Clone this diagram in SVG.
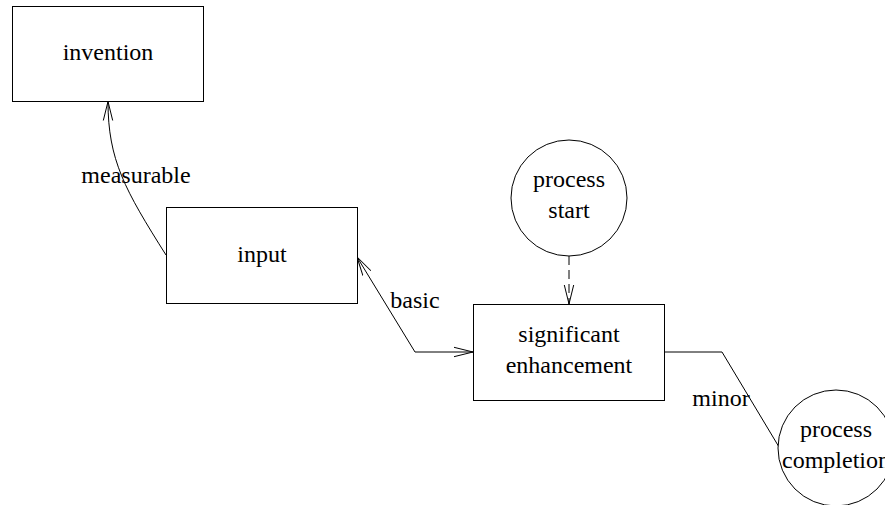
<svg xmlns="http://www.w3.org/2000/svg" width="885" height="505" viewBox="0 0 885 505">
<style>
.node rect, .node circle { fill: #fff; stroke: #000; stroke-width: 1; }
text { font-family: "Liberation Serif", "Times New Roman", serif; font-size: 24px; fill: #000; text-anchor: middle; }
.edge { fill: none; stroke: #000; stroke-width: 1; }
</style>
<defs>
<marker id="arr" markerUnits="userSpaceOnUse" viewBox="0 0 20 12" markerWidth="20" markerHeight="12" refX="19" refY="6" orient="auto-start-reverse">
<path d="M0,1.3 L19,6 L0,10.7" fill="none" stroke="#000" stroke-width="1"/>
</marker>
</defs>
<rect x="0" y="0" width="885" height="505" fill="#fff"/>
<g id="connectors">
<path class="edge" d="M166,255 C125,190 108,160 108,101.5" marker-end="url(#arr)"/>
<path class="edge" d="M357,257 L415,352 L473,352" marker-start="url(#arr)" marker-end="url(#arr)"/>
<path class="edge" d="M569,256 L569,304" stroke-dasharray="9,5" marker-end="url(#arr)"/>
<path class="edge" d="M664,352 L722,352 L779,447"/>
<text x="136" y="183">measurable</text>
<text x="415" y="308">basic</text>
<text x="721" y="406">minor</text>
</g>
<g id="invention" class="node">
<rect x="12.5" y="6.5" width="191" height="95"/>
<text x="108" y="60">invention</text>
</g>
<g id="input" class="node">
<rect x="166.5" y="207.5" width="191" height="96"/>
<text x="262" y="262">input</text>
</g>
<g id="enhancement" class="node">
<rect x="473.5" y="304.5" width="191" height="96"/>
<text x="569" y="342">significant</text>
<text x="569" y="373">enhancement</text>
</g>
<g id="process_start" class="node">
<circle cx="569" cy="198" r="58"/>
<text x="569" y="187">process</text>
<text x="569" y="218">start</text>
</g>
<g id="process_completion" class="node">
<circle cx="836" cy="448" r="58"/>
<text x="836" y="437">process</text>
<text x="836" y="468">completion</text>
</g>
</svg>
